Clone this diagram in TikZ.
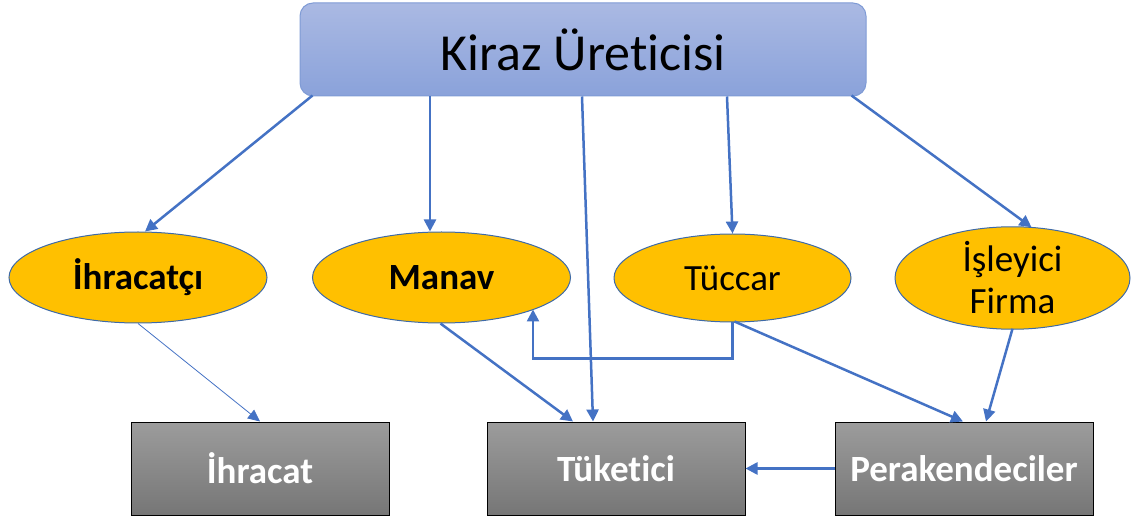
\documentclass[tikz,border=0pt]{standalone}
\usepackage{fontspec}
\setmainfont{Carlito}[Ligatures=CommonOff]
\usetikzlibrary{shapes.geometric,arrows.meta,calc}
\definecolor{arr}{HTML}{4472C4}
\definecolor{gold}{HTML}{FFC000}
\definecolor{ellb}{HTML}{3E6AA8}
\definecolor{ttop}{HTML}{AAB9E3}
\definecolor{tbot}{HTML}{8AA2DA}
\definecolor{tbord}{HTML}{7F9BD5}
\definecolor{gtop}{HTML}{9C9C9C}
\definecolor{gbot}{HTML}{767676}
\tikzset{
  conn/.style={draw=arr, line width=2.5pt, -{Triangle[length=12pt,width=12pt]}},
  thinconn/.style={draw=arr, line width=0.8pt, -{Triangle[length=12pt,width=11pt]}},
  topbox/.style={rectangle, rounded corners=13pt, draw=tbord, line width=1pt, top color=ttop, bottom color=tbot, minimum width=566pt, minimum height=93pt, inner sep=0pt, font=\fontsize{52}{60}\selectfont},
  ell/.style={ellipse, draw=ellb, line width=1pt, fill=gold, minimum width=258pt, minimum height=91pt, inner sep=0pt, align=center, font=\fontsize{37}{42}\selectfont},
  ellbold/.style={ell, font=\fontsize{37}{42}\selectfont\bfseries},
  gbox/.style={rectangle, draw=black, line width=1pt, top color=gtop, bottom color=gbot, minimum width=258pt, minimum height=93pt, inner sep=0pt, text=white, font=\fontsize{37}{43}\selectfont\bfseries}
}
\begin{document}
\begin{tikzpicture}[x=1pt,y=-1pt]
\useasboundingbox (0,0) rectangle (1132,518);
% nodes
\node[topbox] (kiraz) at (583,49.5) {Kiraz Üreticisi};
\node[ellbold] (ihr) at (138,277.5) {İhracatçı};
\node[ellbold] (manav) at (441.5,277.5) {Manav};
\node[ell, minimum width=237pt, minimum height=88pt] (tuccar) at (732.5,278) {Tüccar};
\node[ell, minimum width=235pt, minimum height=90pt] (isl) at (1012.5,278) {İşleyici\\Firma};
\node[gbox] (ihracat) at (260,468.5) {İhracat};
\node[gbox] (tuketici) at (616,468.5) {Tüketici};
\node[gbox] (perak) at (964,468.5) {Perakendeciler};
% connectors
\draw[conn] ([xshift=13pt,yshift=1pt]kiraz.south west) -- ([xshift=7pt]ihr.north);
\draw[conn] ([xshift=-153pt]kiraz.south) -- ([xshift=-11.5pt]manav.north);
\draw[conn] ([xshift=-1pt]kiraz.south) -- ([xshift=-23pt]tuketici.north);
\draw[conn] ([xshift=144pt]kiraz.south) -- (tuccar.north);
\draw[conn] ([xshift=-15pt,yshift=1pt]kiraz.south east) -- ([xshift=19pt,yshift=-1pt]isl.north);
\draw[thinconn] (ihr.south) -- (ihracat.north);
\draw[conn] ([xshift=-1pt]manav.south) -- ([xshift=-43pt]tuketici.north);
\draw[conn] (tuccar.south) -- ++(0,36) -| ([xshift=91.5pt,yshift=14pt]manav.south);
\draw[conn] ([xshift=2pt,yshift=1pt]tuccar.south) -- ([xshift=-1pt]perak.north);
\draw[conn] ([xshift=0pt,yshift=1pt]isl.south) -- ([xshift=22pt]perak.north);
\draw[conn] (perak.west) -- (tuketici.east);
\end{tikzpicture}
\end{document}
